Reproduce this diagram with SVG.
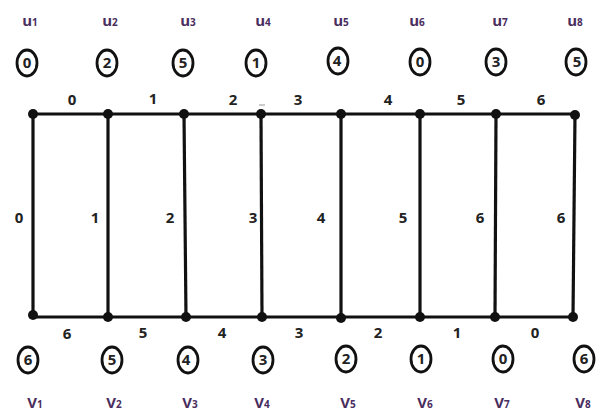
<svg xmlns="http://www.w3.org/2000/svg" width="598" height="414" viewBox="0 0 598 414">
<style>
text{font-family:"Open Sans","Liberation Sans",sans-serif;font-weight:bold;fill:#222}
.n{font-size:15px;text-anchor:middle}
.lab{font-size:15px;fill:#4a2d5e;text-anchor:middle}
.sub{font-size:10px}
.ring{fill:none;stroke:#111;stroke-width:2.8}
.e{stroke:#111;stroke-width:3.2;fill:none}
.dot{fill:#111}
</style>
<rect width="598" height="414" fill="#fff"/>
<g id="connectors">
<line class="e" x1="33" y1="114" x2="575" y2="114"/>
<line class="e" x1="33" y1="317" x2="573" y2="317"/>
<line class="e" x1="33" y1="114" x2="33" y2="317"/>
<line class="e" x1="108" y1="114" x2="108" y2="317"/>
<line class="e" x1="184" y1="114" x2="186" y2="317"/>
<line class="e" x1="261" y1="114" x2="262" y2="317"/>
<line class="e" x1="341" y1="114" x2="341" y2="317"/>
<line class="e" x1="420" y1="114" x2="420" y2="317"/>
<line class="e" x1="496" y1="114" x2="495" y2="317"/>
<line class="e" x1="575" y1="114" x2="573" y2="317"/>
<line x1="259" y1="105" x2="265" y2="105" stroke="#999" stroke-width="1"/>
<g class="n">
<text x="72" y="105">0</text><text x="153" y="104">1</text><text x="233" y="105">2</text><text x="298" y="105">3</text>
<text x="388" y="105">4</text><text x="461" y="105">5</text><text x="541" y="105">6</text>
<text x="19" y="223">0</text><text x="95" y="223">1</text><text x="170" y="223">2</text><text x="253" y="223">3</text>
<text x="321" y="223">4</text><text x="403" y="223">5</text><text x="480" y="223">6</text><text x="561" y="223">6</text>
<text x="67" y="339">6</text><text x="143" y="338">5</text><text x="222" y="338">4</text><text x="299" y="338">3</text>
<text x="378" y="338">2</text><text x="457" y="338">1</text><text x="535" y="338">0</text>
</g>
</g>
<g id="u1"><circle class="dot" cx="33" cy="114" r="5"/><ellipse class="ring" cx="27" cy="63" rx="10" ry="13"/><text class="n" x="27" y="68">0</text><text class="lab" x="30" y="26">u<tspan class="sub">1</tspan></text></g>
<g id="u2"><circle class="dot" cx="108" cy="114" r="5"/><ellipse class="ring" cx="107" cy="63" rx="10" ry="13"/><text class="n" x="107" y="68">2</text><text class="lab" x="110" y="26">u<tspan class="sub">2</tspan></text></g>
<g id="u3"><circle class="dot" cx="184" cy="114" r="5"/><ellipse class="ring" cx="183" cy="63" rx="10" ry="13"/><text class="n" x="183" y="68">5</text><text class="lab" x="188" y="26">u<tspan class="sub">3</tspan></text></g>
<g id="u4"><circle class="dot" cx="261" cy="114" r="5"/><ellipse class="ring" cx="256" cy="63" rx="10" ry="13"/><text class="n" x="256" y="68">1</text><text class="lab" x="263" y="26">u<tspan class="sub">4</tspan></text></g>
<g id="u5"><circle class="dot" cx="341" cy="114" r="5"/><ellipse class="ring" cx="338" cy="61" rx="10" ry="13"/><text class="n" x="337" y="66">4</text><text class="lab" x="341" y="26">u<tspan class="sub">5</tspan></text></g>
<g id="u6"><circle class="dot" cx="420" cy="114" r="5"/><ellipse class="ring" cx="420" cy="62" rx="10" ry="13"/><text class="n" x="420" y="67">0</text><text class="lab" x="417" y="26">u<tspan class="sub">6</tspan></text></g>
<g id="u7"><circle class="dot" cx="496" cy="114" r="5"/><ellipse class="ring" cx="496" cy="62" rx="10" ry="13"/><text class="n" x="496" y="67">3</text><text class="lab" x="500" y="26">u<tspan class="sub">7</tspan></text></g>
<g id="u8"><circle class="dot" cx="575" cy="115" r="5"/><ellipse class="ring" cx="576" cy="62" rx="10" ry="13"/><text class="n" x="577" y="67">5</text><text class="lab" x="575" y="26">u<tspan class="sub">8</tspan></text></g>
<g id="v1"><circle class="dot" cx="33" cy="315" r="5"/><ellipse class="ring" cx="28" cy="360" rx="10" ry="13"/><text class="n" x="28" y="365">6</text><text class="lab" x="35" y="408">V<tspan class="sub">1</tspan></text></g>
<g id="v2"><circle class="dot" cx="108" cy="317" r="5"/><ellipse class="ring" cx="112" cy="360" rx="10" ry="13"/><text class="n" x="112" y="365">5</text><text class="lab" x="114" y="408">V<tspan class="sub">2</tspan></text></g>
<g id="v3"><circle class="dot" cx="186" cy="317" r="5"/><ellipse class="ring" cx="188" cy="360" rx="10" ry="13"/><text class="n" x="186" y="365">4</text><text class="lab" x="190" y="408">V<tspan class="sub">3</tspan></text></g>
<g id="v4"><circle class="dot" cx="262" cy="317" r="5"/><ellipse class="ring" cx="263" cy="360" rx="10" ry="13"/><text class="n" x="263" y="365">3</text><text class="lab" x="262" y="408">V<tspan class="sub">4</tspan></text></g>
<g id="v5"><circle class="dot" cx="341" cy="318" r="5"/><ellipse class="ring" cx="346" cy="359" rx="10" ry="13"/><text class="n" x="346" y="364">2</text><text class="lab" x="348" y="408">V<tspan class="sub">5</tspan></text></g>
<g id="v6"><circle class="dot" cx="420" cy="317" r="5"/><ellipse class="ring" cx="421" cy="359" rx="10" ry="13"/><text class="n" x="421" y="364">1</text><text class="lab" x="425" y="408">V<tspan class="sub">6</tspan></text></g>
<g id="v7"><circle class="dot" cx="495" cy="317" r="5"/><ellipse class="ring" cx="503" cy="359" rx="10" ry="13"/><text class="n" x="503" y="364">0</text><text class="lab" x="502" y="408">V<tspan class="sub">7</tspan></text></g>
<g id="v8"><circle class="dot" cx="573" cy="317" r="5"/><ellipse class="ring" cx="584" cy="359" rx="10" ry="13"/><text class="n" x="584" y="364">6</text><text class="lab" x="583" y="408">V<tspan class="sub">8</tspan></text></g>
</svg>
